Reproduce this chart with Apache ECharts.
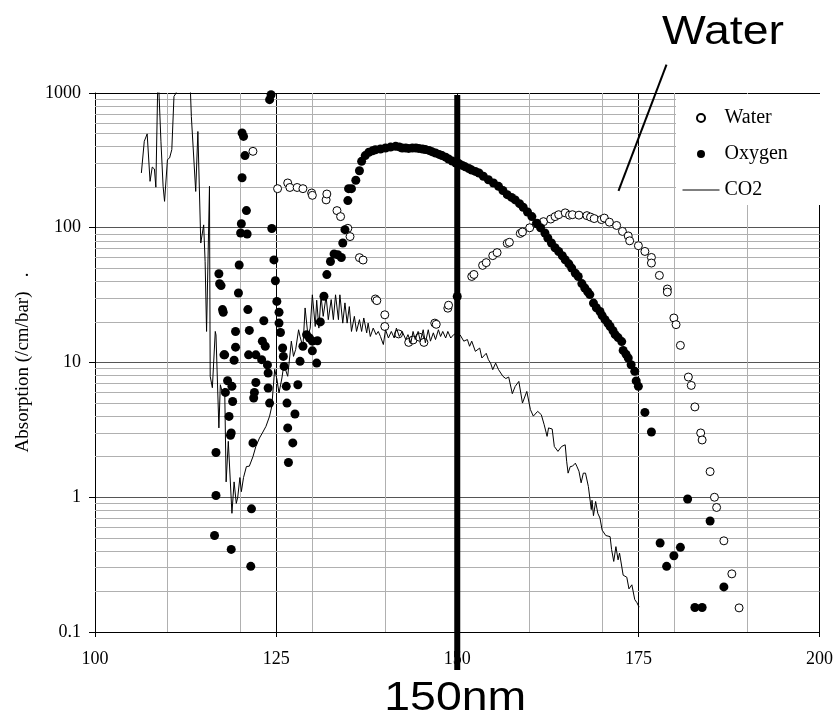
<!DOCTYPE html>
<html>
<head>
<meta charset="utf-8">
<script src="https://cdn.jsdelivr.net/npm/echarts/dist/echarts.min.js"></script>
<style>
html, body { margin: 0; background: #fff; }
#chart { width: 836px; height: 724px; }
</style>
</head>
<body>
<div id="chart"></div>
<script>
// 水 (open circles)
var waterX = [121.8, 125.2, 126.6, 126.9, 127.9, 128.7, 129.9, 130.0, 131.9, 132.0, 133.4, 133.9, 134.9, 135.2, 136.5, 137.0,
    138.7, 138.9, 140.0, 140.0, 141.9, 143.3, 143.9, 144.8, 145.4, 146.9, 147.1, 148.7, 148.8,
    152.0, 152.3, 153.5, 154.0, 154.9, 155.5, 156.9, 157.2, 158.7, 159.0, 160.0, 160.9, 161.9, 162.9, 163.5, 164.0, 164.9,
    165.5, 165.9, 166.8, 167.9, 168.4, 168.9, 169.9, 170.3, 171.0, 172.0, 172.8, 173.6, 173.8, 175.0, 175.9, 176.8, 176.8,
    177.9, 179.0, 179.0, 179.9, 180.2, 180.8, 181.9, 182.3, 182.8, 183.6, 183.8, 184.9, 185.5, 185.8, 186.8, 187.9, 188.9];
var waterY = [369, 195, 215, 199, 199, 195, 181, 174, 161, 178, 134, 121, 99, 86, 60, 57.6,
    29.6, 28.8, 22.6, 18.5, 16.3, 14.1, 14.7, 15.4, 14.1, 19.6, 19.2, 25.3, 26.6,
    43.5, 45, 52.6, 55.1, 62.1, 65.4, 76.6, 78, 90.8, 93, 100, 107, 111, 116, 121, 125, 129,
    124, 125, 124, 123, 120, 117, 115, 118, 110, 104, 94, 87, 80, 73.6, 66.7, 60.2, 54.7,
    44.3, 35.1, 33.3, 21.4, 19.1, 13.4, 7.8, 6.76, 4.68, 3.0, 2.66, 1.55, 1.0, 0.84, 0.475, 0.27, 0.151];

// 氧 (filled circles)
var oxygenX = [116.5, 116.7, 116.7, 117.1, 117.2, 117.4, 117.6, 117.7, 117.8, 117.9, 118.0, 118.3, 118.5, 118.7, 118.8, 118.8,
    118.9, 119.0, 119.2, 119.4, 119.4, 119.8, 119.9, 120.1, 120.2, 120.3, 120.3, 120.5, 120.7, 120.9, 121.0, 121.1, 121.2,
    121.3, 121.5, 121.6, 121.8, 121.9, 122.0, 122.2, 122.2, 123.0, 123.1, 123.3, 123.5, 123.8, 123.9, 123.9, 124.1, 124.1,
    124.3, 124.4, 124.7, 124.9, 125.1, 125.4, 125.4, 125.6, 125.9, 126.0, 126.1, 126.4, 126.5, 126.6, 126.7, 127.3, 127.6,
    128.0, 128.3, 128.7, 129.2, 129.6, 130.0, 130.0, 130.6, 130.7, 131.1, 131.6, 132.0, 132.5, 133.0, 133.5, 134.0, 134.2,
    134.5, 134.9, 135.0, 135.4, 136.0, 136.5, 136.8, 137.3, 137.8, 138.3, 138.7, 139.4, 140.1, 140.8, 141.5, 142.0, 142.4,
    142.9, 143.3, 143.8, 144.3, 144.7, 145.2, 145.6, 146.1, 146.5, 147.0, 147.5, 147.9, 148.4, 148.8, 149.3, 149.8, 150.0,
    150.2, 150.7, 151.1, 151.6, 152.0, 152.5, 153.0, 153.6, 154.3, 155.0, 155.7, 156.3, 156.9, 157.5, 158.0, 158.6, 159.1,
    159.7, 160.3, 161.0, 161.5, 162.1, 162.5, 163.0, 163.5, 164.0, 164.5, 164.9, 165.4, 165.8, 166.3, 166.7, 167.2, 167.6,
    168.0, 168.3, 168.8, 169.2, 169.7, 170.0, 170.4, 170.8, 171.1, 171.5, 171.8, 172.2, 172.7, 172.9, 173.3, 173.6, 174.0,
    174.5, 174.7, 175.0, 175.9, 176.8, 178.0, 178.9, 179.9, 180.8, 181.8, 182.8, 183.8, 184.9, 186.8];
var oxygenY = [0.52, 1.03, 2.15, 45.6, 38.4, 37.2, 24.7, 23.6, 11.4, 11.4, 6.0, 7.32, 3.98, 2.88, 3.0, 0.41,
    6.65, 5.14, 10.4, 17.0, 13.0, 32.8, 52.9, 91.5, 107, 235, 505, 476, 343, 134, 89.9, 24.7, 11.4,
    17.3, 0.307, 0.82, 2.53, 5.45, 6.0, 7.1, 11.4, 10.5, 14.4, 20.4, 13.2, 9.6, 8.35, 6.47, 5.0, 892,
    971, 98.8, 57.7, 40.4, 28.4, 23.6, 19.6, 16.7, 12.8, 11.1, 9.35, 6.65, 5.0, 3.27, 1.81, 2.53, 4.15,
    6.84, 10.2, 13.2, 16.1, 15.2, 14.4, 12.2, 9.9, 14.5, 20.0, 31.0, 44.9, 56.2, 63.8, 63, 60.2, 77.1,
    96.8, 159, 195, 195, 225, 265, 311, 343, 363, 372, 379, 384, 391, 397, 402, 398, 391,
    390, 388, 390, 391, 388, 384, 380, 375, 367, 359, 350, 343, 334, 324, 313, 302, 30.9,
    300, 290, 283, 275, 268, 262, 255, 241, 227, 215, 203, 189, 176, 168, 161, 151, 142,
    131, 121, 108, 100, 91.4, 84, 77, 71, 66.7, 62, 57.9, 54, 50.2, 46, 43.5, 38.5, 35.7,
    33.5, 31.9, 27.6, 25.5, 23.9, 22.3, 20.8, 19.5, 18.5, 17.2, 16.1, 15.3, 14.3, 12.3, 11.5, 10.8, 9.63,
    8.6, 7.3, 6.65, 4.26, 3.05, 0.458, 0.307, 0.368, 0.425, 0.97, 0.152, 0.152, 0.667, 0.216];

// CO2 (line)
var co2X = [106.4, 106.8, 107.2, 107.6, 107.9, 108.2, 108.4, 108.7, 108.9, 109.1, 109.4, 109.6, 110.0, 110.3, 110.6, 110.9,
    111.2, 111.4, 113.1, 113.3, 113.9, 114.2, 114.6, 115.0, 115.2, 115.4, 115.8, 115.9, 116.2, 116.6, 116.7, 117.1, 117.3,
    117.6, 117.9, 118.1, 118.4, 118.9, 119.2, 119.5, 119.7, 120.0, 120.2, 120.5, 120.9, 121.3, 121.8, 122.2, 122.7, 123.1,
    123.6, 124.1, 124.4, 124.8, 125.1, 125.4, 125.8, 126.1, 126.4, 126.6, 127.1, 127.4, 127.7, 128.1, 128.3, 128.7, 129.0,
    129.4, 129.7, 130.0, 130.4, 130.6, 130.9, 131.2, 131.5, 131.9, 132.2, 132.6, 132.9, 133.2, 133.6, 133.8, 134.2, 134.5,
    134.8, 135.1, 135.4, 135.8, 136.1, 136.5, 136.8, 137.1, 137.5, 137.7, 138.0, 138.4, 138.8, 139.1, 139.4, 139.8, 140.1,
    140.5, 140.9, 141.3, 141.6, 142.0, 142.4, 142.9, 143.2, 143.6, 143.9, 144.2, 144.6, 144.9, 145.3, 145.6, 146.0, 146.3,
    146.7, 147.0, 147.4, 147.7, 148.0, 148.4, 148.7, 149.1, 149.5, 150.0, 150.4, 150.9, 151.4, 151.7, 152.0, 152.5, 153.1,
    153.4, 154.0, 154.3, 154.6, 154.9, 155.3, 155.7, 156.3, 156.7, 157.1, 157.6, 158.0, 158.5, 159.0, 159.6, 160.1, 160.5,
    161.1, 161.6, 162.0, 162.4, 162.6, 163.1, 163.4, 163.9, 164.4, 164.9, 165.1, 165.3, 165.6, 165.9, 166.3, 166.5, 166.8,
    167.1, 167.4, 167.7, 168.1, 168.5, 168.6, 168.8, 169.1, 169.4, 169.7, 170.0, 170.5, 171.1, 171.3, 171.6, 171.9, 172.2,
    172.4, 172.9, 173.4, 173.7, 174.1, 174.3, 174.5, 174.8, 175.1];
var co2Y = [255, 438, 497, 221, 282, 273, 200, 1500, 1500, 438, 203, 157, 320, 330, 380, 944,
    1000, 1300, 1300, 670, 186, 518, 77, 105, 56, 17, 203, 7.9, 6.5, 17, 16, 3.27, 6.84,
    5.94, 6.47, 1.3, 2.6, 0.76, 1.3, 0.9, 1.0, 1.4, 1.1, 1.4, 1.69, 1.7, 2.0, 2.38, 2.75, 3.0,
    3.36, 4.0, 4.72, 8.9, 7.55, 5.94, 7.67, 9.9, 8.5, 7.9, 14.4, 11.1, 12.5, 17.5, 15.6, 13, 25.4,
    15.6, 18, 31.8, 18.5, 29, 18, 31, 22, 31, 20.8, 29.3, 20.8, 31.8, 20.8, 31.8, 19.6, 27.7,
    19.6, 26, 17, 22, 17, 20.8, 17, 21.4, 16.6, 19.6, 15.6, 18, 16.1, 17, 15.6, 13.6, 17.5,
    15.2, 17, 15.2, 18, 15.6, 17, 14.8, 16.1, 14, 17, 14.8, 17, 14.4, 17.5, 14, 17.5, 14.4,
    16.6, 14.8, 17.5, 15.6, 17, 15.2, 17, 15.2, 16.1, 16.6, 16, 14.4, 14.8, 13.2, 14.4, 12.1, 12.8,
    10.8, 11.7, 10.5, 9.9, 8.85, 9.9, 8.85, 7.9, 7.6, 7.8, 5.87, 6.65, 7.24, 5.0, 6.1, 4.47, 4.0,
    4.34, 4.1, 3.45, 2.83, 3.27, 3.21, 2.38, 2.19, 2.38, 2.45, 1.85, 1.51, 1.69, 1.7, 1.79, 1.7, 1.56,
    1.28, 1.51, 1.51, 1.2, 0.81, 0.95, 0.73, 0.93, 0.76, 0.7, 0.57, 0.52, 0.51, 0.41, 0.334, 0.43, 0.343,
    0.385, 0.264, 0.255, 0.209, 0.224, 0.224, 0.174, 0.165, 0.153];

// 网格
var yDecades = [0.1, 1, 10, 100];
var xMinorTicks = [110, 120, 130, 140, 160, 170, 180, 190];

function pairs(xs, ys) {
    var out = [];
    for (var i = 0; i < xs.length; i++) {
        out.push([xs[i], ys[i]]);
    }
    return out;
}

var minorLines = [];
yDecades.forEach(function (d) {
    for (var k = 2; k <= 9; k++) {
        minorLines.push({yAxis: +(d * k).toPrecision(3)});
    }
});
xMinorTicks.forEach(function (v) {
    minorLines.push({xAxis: v});
});

var serif = 'Liberation Serif';

var myChart = echarts.init(document.getElementById('chart'));

var option = {
    animation: false,
    backgroundColor: '#fff',
    grid: {
        left: 95,
        right: 14,
        top: 93,
        bottom: 92
    },
    legend: {
        orient: 'vertical',
        left: 676,
        top: 94,
        z: 10,
        itemWidth: 37,
        itemHeight: 8,
        itemGap: 16,
        padding: [14, 35, 5, 6],
        backgroundColor: '#fff',
        selectedMode: false,
        textStyle: {
            fontFamily: serif,
            fontSize: 20,
            color: '#000'
        },
        data: [
            'Water',
            'Oxygen',
            {name: 'CO2', itemStyle: {opacity: 0}, lineStyle: {color: '#000', width: 1, opacity: 1}}
        ]
    },
    xAxis: [
        {
            type: 'value',
            min: 100,
            max: 200,
            interval: 25,
            position: 'bottom',
            axisLine: {lineStyle: {color: '#000', width: 1}},
            axisTick: {show: true, length: 5, lineStyle: {color: '#000'}},
            axisLabel: {color: '#000', fontFamily: serif, fontSize: 18, margin: 18},
            splitLine: {show: true, lineStyle: {color: '#000', width: 1}}
        },
        {
            type: 'value',
            min: 100,
            max: 200,
            position: 'top',
            axisLine: {show: true, lineStyle: {color: '#000', width: 1}},
            axisTick: {show: false},
            axisLabel: {show: false},
            splitLine: {show: false}
        }
    ],
    yAxis: {
        type: 'log',
        logBase: 10,
        min: 0.1,
        max: 1000,
        name: 'Absorption (/cm/bar)   .',
        nameLocation: 'middle',
        nameGap: 62,
        nameTextStyle: {color: '#000', fontFamily: serif, fontSize: 19},
        axisLine: {show: true, lineStyle: {color: '#000', width: 1}},
        axisTick: {show: true, length: 6, lineStyle: {color: '#000'}},
        axisLabel: {
            color: '#000', fontFamily: serif, fontSize: 18, margin: 14,
            formatter: function (v) { return String(v); }
        },
        splitLine: {show: true, lineStyle: {color: '#555', width: 1}}
    },
    series: [
        { // minor grid lines
            type: 'line',
            name: 'grid',
            data: [],
            z: 1,
            silent: true,
            markLine: {
                z: 1,
                silent: true,
                animation: false,
                symbol: ['none', 'none'],
                label: {show: false},
                emphasis: {disabled: true},
                lineStyle: {color: '#b0b0b0', width: 1, type: 'solid'},
                data: minorLines
            }
        },
        {
            name: 'Water',
            type: 'scatter',
            symbol: 'circle',
            symbolSize: 8,
            z: 3,
            itemStyle: {color: '#fff', borderColor: '#000', borderWidth: 1, opacity: 1},
            emphasis: {disabled: true},
            data: pairs(waterX, waterY)
        },
        {
            name: 'Oxygen',
            type: 'scatter',
            symbol: 'circle',
            symbolSize: 9,
            z: 4,
            itemStyle: {color: '#000', opacity: 1},
            emphasis: {disabled: true},
            data: pairs(oxygenX, oxygenY)
        },
        {
            name: 'CO2',
            type: 'line',
            symbol: 'none',
            showSymbol: false,
            z: 5,
            clip: true,
            lineStyle: {color: '#000', width: 1},
            itemStyle: {color: '#000'},
            emphasis: {disabled: true},
            data: pairs(co2X, co2Y)
        }
    ]
};

myChart.setOption(option);

// 150nm 标线 + 注释
var x150 = myChart.convertToPixel({xAxisIndex: 0}, 150);
myChart.setOption({
    graphic: [
        {
            type: 'rect',
            z: 100,
            shape: {x: x150 - 3, y: 95, width: 6, height: 575},
            style: {fill: '#000'}
        },
        {
            type: 'text',
            z: 100,
            x: x150 - 2,
            y: 699,
            scaleX: 1.16,
            style: {
                text: '150nm',
                font: '40px "Liberation Sans"',
                fill: '#000',
                align: 'center',
                verticalAlign: 'middle'
            }
        },
        {
            type: 'text',
            z: 100,
            x: 723,
            y: 33,
            scaleX: 1.16,
            style: {
                text: 'Water',
                font: '40px "Liberation Sans"',
                fill: '#000',
                align: 'center',
                verticalAlign: 'middle'
            }
        },
        {
            type: 'line',
            z: 100,
            shape: {x1: 618.5, y1: 190.8, x2: 666.5, y2: 64.7},
            style: {stroke: '#000', lineWidth: 2}
        }
    ]
});
</script>
</body>
</html>
